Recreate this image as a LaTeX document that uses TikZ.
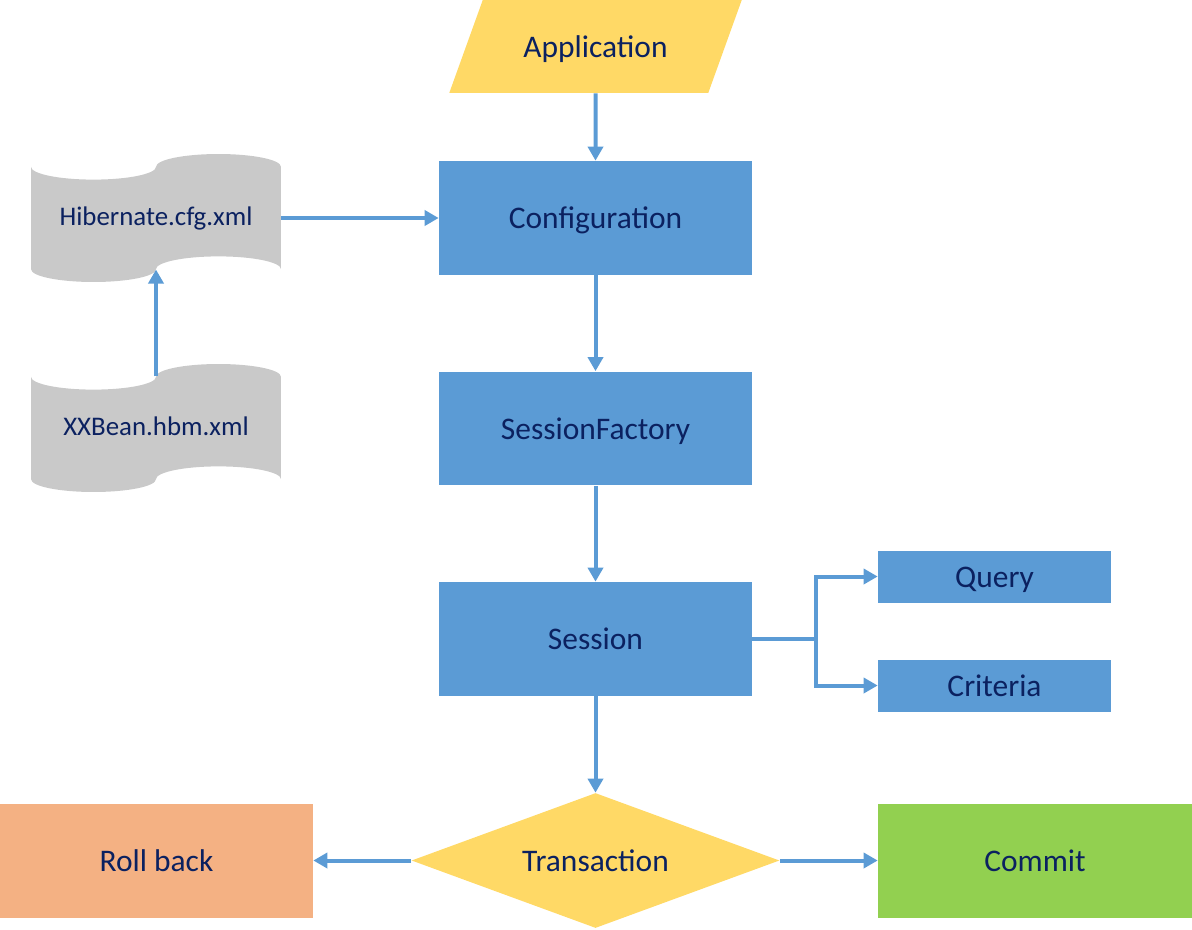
\documentclass[tikz,border=0pt]{standalone}
\usepackage{fontspec}
\setmainfont{Carlito}
\usetikzlibrary{shapes.geometric}
\usetikzlibrary{arrows.meta}
\definecolor{boxblue}{HTML}{5B9BD5}
\definecolor{appyellow}{HTML}{FFD966}
\definecolor{tapegray}{HTML}{C9C9C9}
\definecolor{rborange}{HTML}{F4B183}
\definecolor{okgreen}{HTML}{92D050}
\definecolor{txtblue}{HTML}{0B2160}
\tikzset{%
    lbl/.style={inner sep=0pt,text=txtblue,font=\fontsize{17.9}{20}\selectfont,
        text height=16pt,text depth=3.5pt},
    blk/.style={rectangle,lbl,fill=boxblue,minimum width=6.26cm,minimum height=2.28cm},
    sml/.style={blk,minimum width=4.66cm,minimum height=1.04cm},
    tape/.style={rectangle,inner sep=0pt,text=txtblue,minimum width=5cm,minimum height=2.56cm,
        font=\fontsize{15.3}{18}\selectfont,text height=13pt,text depth=4pt,
        path picture={\fill[tapegray] ([yshift=-0.256cm]path picture bounding box.north west)
            arc[start angle=180,end angle=360,x radius=1.25cm,y radius=0.256cm]
            arc[start angle=180,end angle=0,x radius=1.25cm,y radius=0.256cm]
            -- ([yshift=0.256cm]path picture bounding box.south east)
            arc[start angle=0,end angle=180,x radius=1.25cm,y radius=0.256cm]
            arc[start angle=0,end angle=-180,x radius=1.25cm,y radius=0.256cm] -- cycle;}},
    arr/.style={draw=boxblue,line width=0.08cm,-{Triangle[length=0.28cm,width=0.3cm]}}
}
\begin{document}
\begin{tikzpicture}[x=0.02cm,y=-0.02cm]
    \useasboundingbox (0,0) rectangle (1192,929);
    \node[trapezium,trapezium left angle=58,trapezium right angle=122,trapezium stretches=true,
        lbl,fill=appyellow,minimum width=5.86cm,minimum height=1.86cm] (app) at (595.5,46.5) {Application};
    \node[blk] (conf) at (595.5,218) {Configuration};
    \node[blk] (sf) at (595.5,428.5) {SessionFactory};
    \node[blk] (sess) at (595.5,639) {Session};
    \node[sml] (qry) at (994.5,576.5) {Query};
    \node[sml] (crit) at (994.5,685.5) {Criteria};
    \node[diamond,lbl,fill=appyellow,aspect=2.7,minimum width=7.36cm,minimum height=2.7cm] (trans) at (595.5,860.5) {Transaction};
    \node[blk,fill=rborange] (rb) at (156.5,860.5) {Roll back};
    \node[blk,fill=okgreen,minimum width=6.28cm] (cmt) at (1035,860.5) {Commit};
    \node[tape] (hib) at (156,218) {Hibernate.cfg.xml};
    \node[tape] (xxb) at (156,428) {XXBean.hbm.xml};
    \coordinate (fork) at (816,639);
    \draw[arr] (app) -- (conf);
    \draw[arr] (conf) -- (sf);
    \draw[arr] (sf) -- (sess);
    \draw[arr] (sess) -- (trans);
    \draw[arr] (hib) -- (conf);
    \draw[arr] ([yshift=-0.256cm]xxb.north) -- ([yshift=0.256cm]hib.south);
    \draw[arr] (sess.east) -- (fork) |- (qry.west);
    \draw[arr] (fork) |- (crit.west);
    \draw[arr] (trans) -- (rb);
    \draw[arr] (trans) -- (cmt);
\end{tikzpicture}
\end{document}
